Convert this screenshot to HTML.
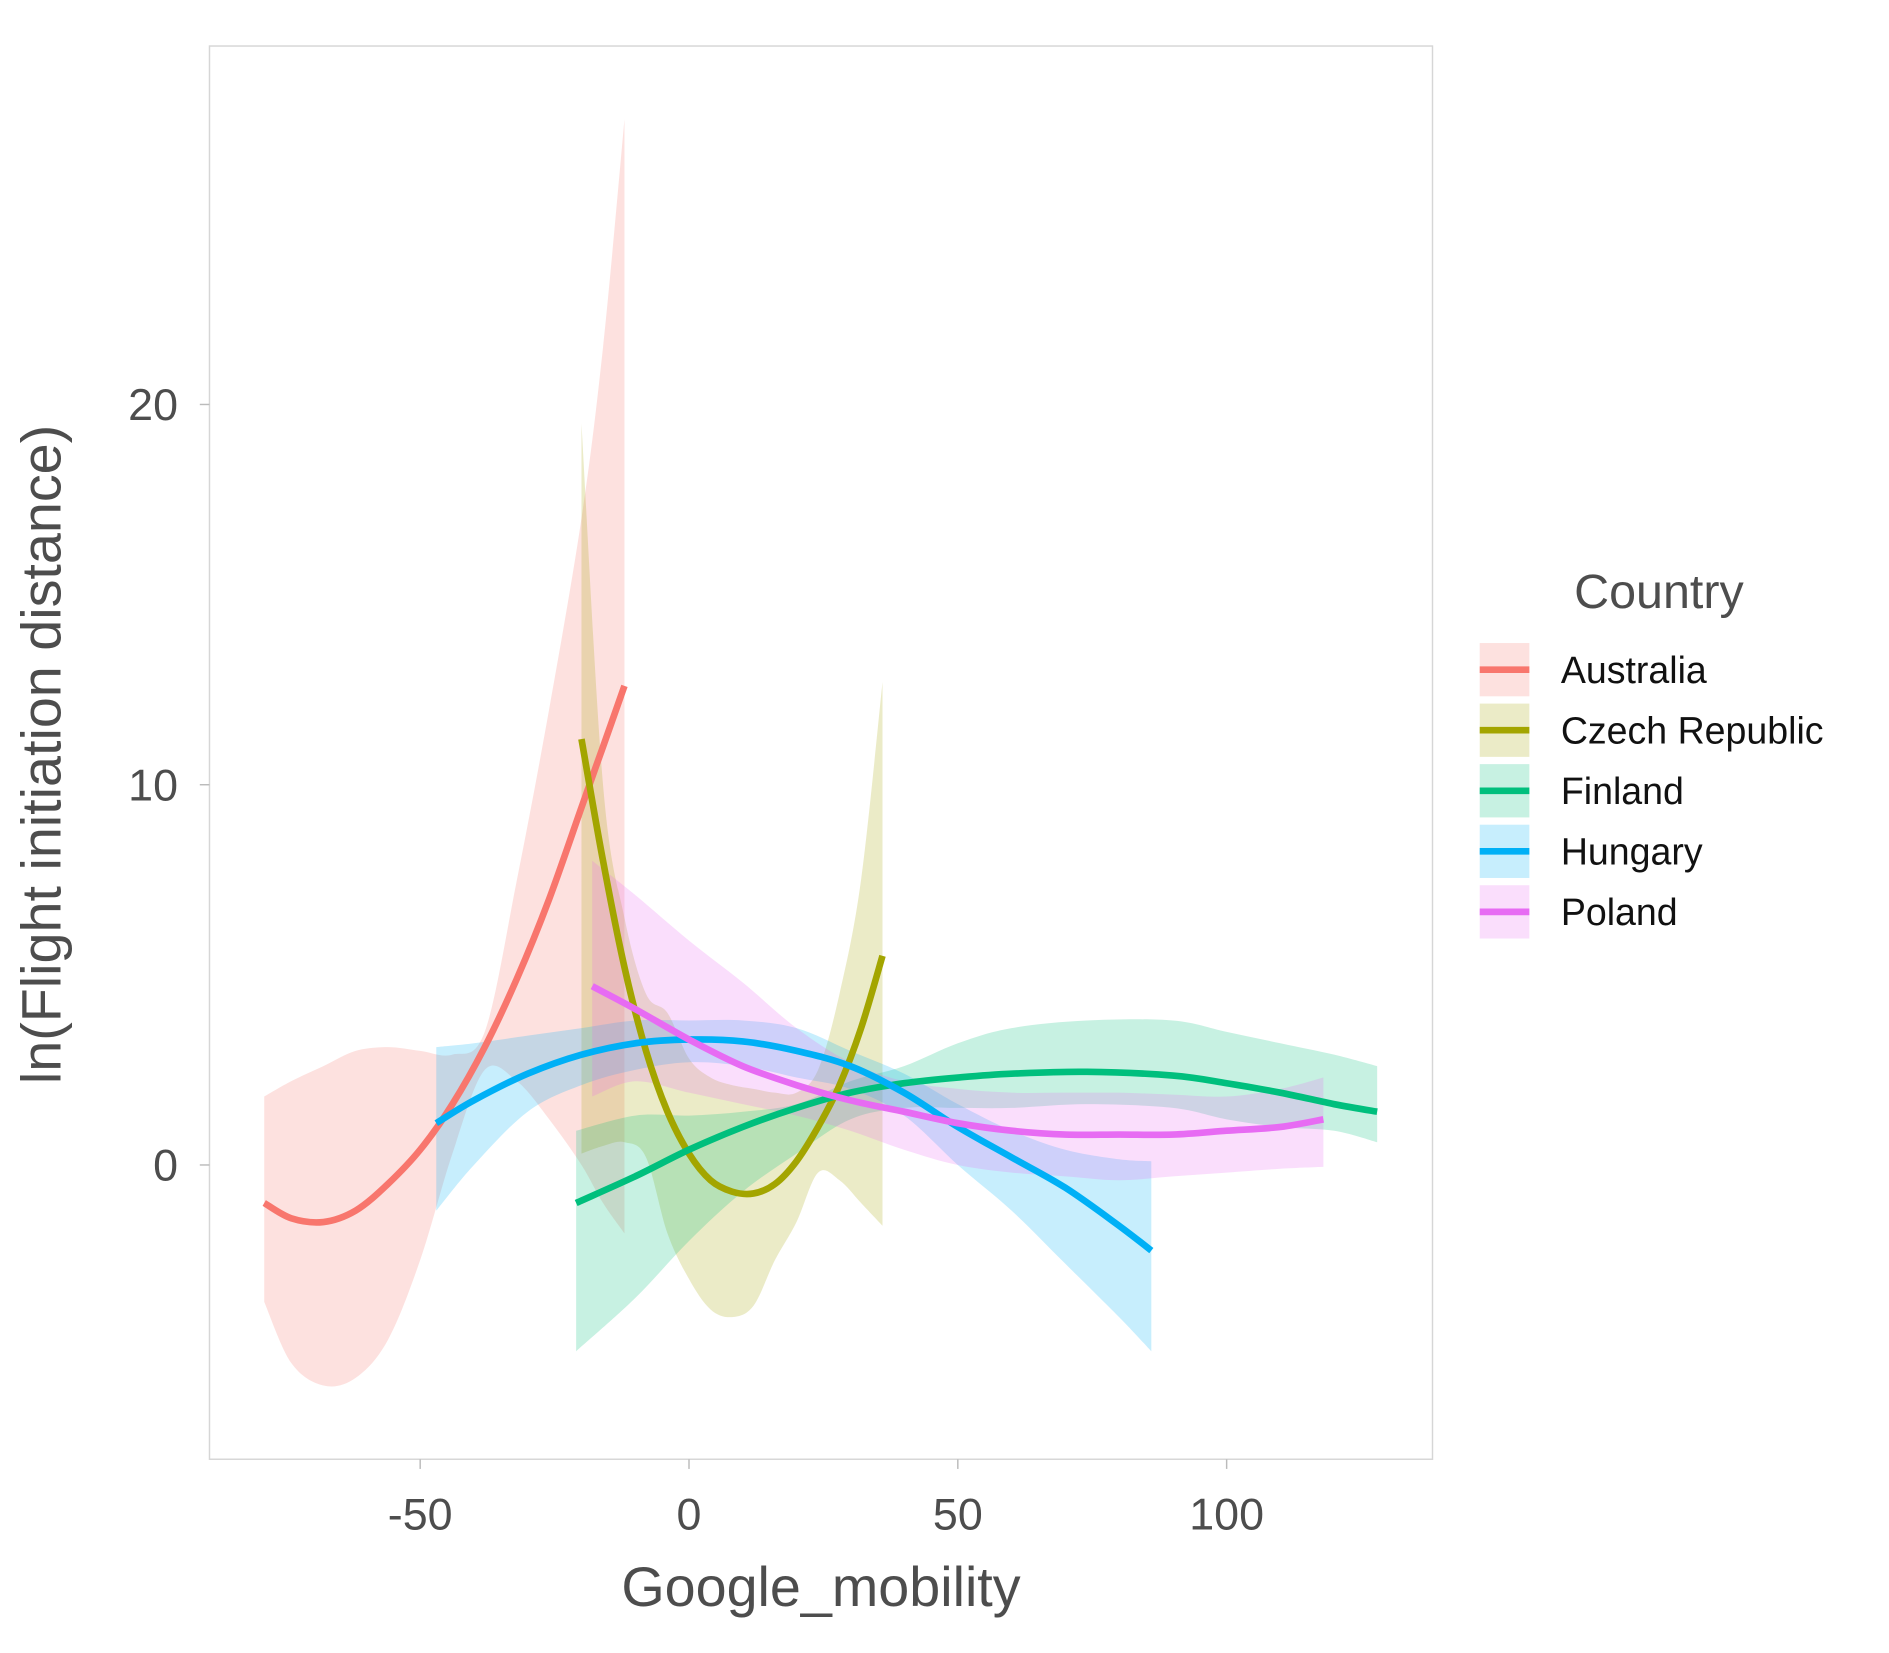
<!DOCTYPE html>
<html><head><meta charset="utf-8"><style>
html,body{margin:0;padding:0;background:#fff;}
svg{display:block;font-family:"Liberation Sans",sans-serif;}
</style></head><body>
<svg id="chart" width="1889" height="1653" viewBox="0 0 1560 1365" preserveAspectRatio="none" xmlns="http://www.w3.org/2000/svg">
<rect x="173" y="38" width="1010" height="1167" fill="#fff" stroke="#d6d6d6" stroke-width="1.2"/>
<g id="bands"></g>
<g id="lines"></g>
<g id="axes"></g>
<text x="678" y="1326" text-anchor="middle" font-size="46" fill="#4d4d4d">Google_mobility</text>
<text transform="translate(50,623) rotate(-90)" text-anchor="middle" font-size="46" fill="#4d4d4d">ln(Flight initiation distance)</text>
<g id="legend">
<text x="1300" y="502" font-size="40" fill="#4d4d4d">Country</text>
</g>
</svg>
<script>
const names=["Australia","Czech Republic","Finland","Hungary","Poland"];
const colors=["#F8766D","#A3A500","#00BF7D","#00B0F6","#E76BF3"];
const xTicks=[-50,0,50,100];
const yTicks=[0,10,20];
const ausX=[-79,-74,-68,-62,-56,-50,-44,-38,-32,-26,-20,-16,-12];
const ausY=[-1.0,-1.4,-1.5,-1.2,-0.5,0.4,1.6,3.1,4.9,7.0,9.4,11.0,12.6];
const ausLo=[-3.6,-5.2,-5.8,-5.6,-4.6,-2.5,0.3,2.5,2.2,1.2,0.0,-1.0,-1.8];
const ausHi=[1.8,2.2,2.6,3.0,3.1,3.0,2.9,3.5,7.5,12,17,21.5,27.5];
const czeX=[-20,-16,-12,-8,-4,0,4,8,12,16,20,24,28,32,36];
const czeY=[11.2,8.0,5.2,3.0,1.4,0.3,-0.4,-0.7,-0.75,-0.5,0.1,1.0,2.1,3.6,5.5];
const czeLo=[0.3,0.5,0.6,0.2,-1.8,-3.0,-3.8,-4.0,-3.7,-2.5,-1.5,-0.2,-0.4,-1.0,-1.6];
const czeHi=[19.5,10,6.5,4.5,4,2.8,2.3,2.1,2.0,1.9,1.9,2.5,4.5,7.5,12.7];
const finX=[-21,-10,0,10,20,30,40,50,60,74,90,100,110,120,128];
const finY=[-1.0,-0.3,0.4,1.0,1.5,1.9,2.15,2.3,2.4,2.45,2.35,2.15,1.9,1.6,1.4];
const finLo=[-4.9,-3.5,-2.0,-0.7,0.3,1.2,1.5,1.5,1.5,1.6,1.5,1.2,1.0,0.9,0.6];
const finHi=[0.9,1.3,1.3,1.4,1.6,2.2,2.6,3.2,3.6,3.8,3.8,3.5,3.2,2.9,2.6];
const hunX=[-47,-40,-30,-20,-10,0,10,20,30,40,50,60,70,80,86];
const hunY=[1.1,1.7,2.4,2.9,3.2,3.3,3.25,3.0,2.6,1.9,1.0,0.2,-0.6,-1.6,-2.25];
const hunLo=[-1.2,0.0,1.4,2.1,2.5,2.7,2.6,2.3,2.0,1.3,0.0,-1.2,-2.6,-4.0,-4.9];
const hunHi=[3.1,3.2,3.4,3.6,3.8,3.8,3.8,3.6,3.0,2.4,1.6,0.9,0.4,0.15,0.1];
const polX=[-18,-10,0,10,20,30,40,50,60,70,80,90,100,110,118];
const polY=[4.7,4.1,3.3,2.6,2.1,1.7,1.4,1.1,0.9,0.8,0.8,0.8,0.9,1.0,1.2];
const polLo=[1.8,2.2,1.9,1.6,1.3,0.9,0.4,0.0,-0.2,-0.3,-0.4,-0.3,-0.2,-0.1,-0.05];
const polHi=[8.0,7.1,5.9,4.8,3.6,2.7,2.2,2.0,1.9,1.9,1.9,1.85,1.8,2.0,2.3];
const series=[[ausX,ausY,ausLo,ausHi],[czeX,czeY,czeLo,czeHi],[finX,finY,finLo,finHi],[hunX,hunY,hunLo,hunHi],[polX,polY,polLo,polHi]];
const NS="http://www.w3.org/2000/svg";
function sx(v){return 569+v*4.44;}
function sy(v){return 962-v*31.4;}
function smooth(pts){
  let d="M"+pts[0][0].toFixed(1)+","+pts[0][1].toFixed(1);
  for(let i=0;i<pts.length-1;i++){
    const p0=pts[Math.max(0,i-1)],p1=pts[i],p2=pts[i+1],p3=pts[Math.min(pts.length-1,i+2)];
    const c1=[p1[0]+(p2[0]-p0[0])/6,p1[1]+(p2[1]-p0[1])/6];
    const c2=[p2[0]-(p3[0]-p1[0])/6,p2[1]-(p3[1]-p1[1])/6];
    d+="C"+c1[0].toFixed(1)+","+c1[1].toFixed(1)+" "+c2[0].toFixed(1)+","+c2[1].toFixed(1)+" "+p2[0].toFixed(1)+","+p2[1].toFixed(1);
  }
  return d;
}
const bandG=document.getElementById('bands'),lineG=document.getElementById('lines'),axG=document.getElementById('axes'),legG=document.getElementById('legend');
series.forEach((s,k)=>{
  const [X,Y,L,H]=s;
  const top=X.map((x,i)=>[sx(x),sy(H[i])]);
  const bot=X.map((x,i)=>[sx(x),sy(L[i])]).reverse();
  const bp=document.createElementNS(NS,'path');
  bp.setAttribute('d',smooth(top)+"L"+smooth(bot).slice(1)+"Z");
  bp.setAttribute('fill',colors[k]);bp.setAttribute('fill-opacity','0.22');
  
  
  bandG.appendChild(bp);
  const lp=document.createElementNS(NS,'path');
  lp.setAttribute('d',smooth(X.map((x,i)=>[sx(x),sy(Y[i])])));
  lp.setAttribute('fill','none');lp.setAttribute('stroke',colors[k]);lp.setAttribute('stroke-width','5.5');
  
  
  lineG.appendChild(lp);
  const ly=553+k*50;
  const kr=document.createElementNS(NS,'rect');
  kr.setAttribute('x',1222);kr.setAttribute('y',ly-22);kr.setAttribute('width',41);kr.setAttribute('height',44);
  kr.setAttribute('fill',colors[k]);kr.setAttribute('fill-opacity','0.22');
  
  
  legG.appendChild(kr);
  const kl=document.createElementNS(NS,'line');
  kl.setAttribute('x1',1222);kl.setAttribute('x2',1263);kl.setAttribute('y1',ly);kl.setAttribute('y2',ly);
  kl.setAttribute('stroke',colors[k]);kl.setAttribute('stroke-width','5.5');
  
  
  legG.appendChild(kl);
  const t=document.createElementNS(NS,'text');
  t.setAttribute('x',1289);t.setAttribute('y',ly+11);t.setAttribute('font-size','31');t.setAttribute('fill','#111');
  t.textContent=names[k];
  
  
  legG.appendChild(t);
});
xTicks.forEach(v=>{
  const l=document.createElementNS(NS,'line');
  l.setAttribute('x1',sx(v));l.setAttribute('x2',sx(v));l.setAttribute('y1',1205);l.setAttribute('y2',1213);
  l.setAttribute('stroke','#bbb');l.setAttribute('stroke-width','1.2');
  
  
  axG.appendChild(l);
  const t=document.createElementNS(NS,'text');
  t.setAttribute('x',sx(v));t.setAttribute('y',1263);t.setAttribute('text-anchor','middle');t.setAttribute('font-size','37');t.setAttribute('fill','#4d4d4d');
  t.textContent=v;
  
  
  axG.appendChild(t);
});
yTicks.forEach(v=>{
  const l=document.createElementNS(NS,'line');
  l.setAttribute('x1',165);l.setAttribute('x2',173);l.setAttribute('y1',sy(v));l.setAttribute('y2',sy(v));
  l.setAttribute('stroke','#bbb');l.setAttribute('stroke-width','1.2');
  
  
  axG.appendChild(l);
  const t=document.createElementNS(NS,'text');
  t.setAttribute('x',147);t.setAttribute('y',sy(v)+13);t.setAttribute('text-anchor','end');t.setAttribute('font-size','37');t.setAttribute('fill','#4d4d4d');
  t.textContent=v;
  
  
  axG.appendChild(t);
});
</script>
</body></html>
